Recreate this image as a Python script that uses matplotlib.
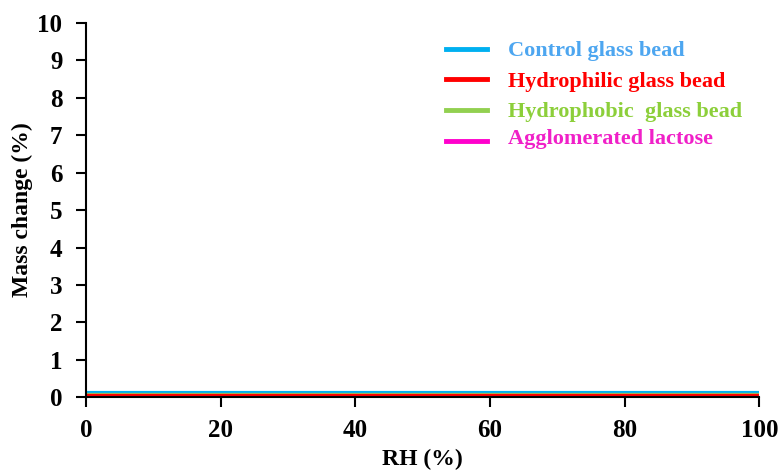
import matplotlib.pyplot as plt

plt.rcParams['font.family'] = ['Liberation Serif', 'DejaVu Serif']
plt.rcParams['font.weight'] = 'bold'

rh = [0, 20, 40, 60, 80, 100]
control = [0.12, 0.12, 0.12, 0.12, 0.12, 0.12]
hydrophilic = [0.04, 0.04, 0.04, 0.04, 0.04, 0.04]
hydrophobic = [0.05, 0.05, 0.05, 0.05, 0.05, 0.05]
lactose = [0.03, 0.03, 0.03, 0.03, 0.03, 0.03]

names = ["Control glass bead", "Hydrophilic glass bead", "Hydrophobic  glass bead", "Agglomerated lactose"]
line_cols = ["#00b0f0", "#ff0000", "#92d050", "#ff00cc"]
text_cols = ["#4da6f0", "#ff0000", "#8ccf3a", "#f020c8"]

fig = plt.figure(figsize=(7.82, 4.70), dpi=100)
ax = fig.add_axes([0.110, 0.155, 0.861, 0.796])

ax.plot(rh, control, color=line_cols[0], lw=3, solid_capstyle='butt')
ax.plot(rh, hydrophobic, color=line_cols[2], lw=3, solid_capstyle='butt')
ax.plot(rh, lactose, color=line_cols[3], lw=3, solid_capstyle='butt')
ax.plot(rh, hydrophilic, color=line_cols[1], lw=3, solid_capstyle='butt')

ax.set_xlim(0, 100)
ax.set_ylim(0, 10)
ax.set_xticks(range(0, 101, 20))
ax.set_yticks(range(0, 11))
ax.spines['top'].set_visible(False)
ax.spines['right'].set_visible(False)
ax.spines['left'].set_linewidth(1.5)
ax.spines['bottom'].set_linewidth(1.5)
ax.tick_params(axis='both', labelsize=18, width=1.5, length=7, direction='out')
ax.tick_params(axis='y', pad=10)
ax.tick_params(axis='x', pad=9)
ax.set_xlabel("RH (%)", fontsize=17, fontweight='bold', labelpad=5)
ax.set_ylabel("Mass change (%)", fontsize=17, fontweight='bold', labelpad=3)

# hand-placed legend
line_ys = [0.896, 0.832, 0.766, 0.700]
text_ys = [0.892, 0.826, 0.762, 0.704]
for name, lc, tc, ly, ty in zip(names, line_cols, text_cols, line_ys, text_ys):
    fig.add_artist(plt.Line2D([0.570, 0.623], [ly, ly], color=lc, lw=3.5, transform=fig.transFigure))
    fig.text(0.650, ty, name, color=tc, fontsize=16, fontweight='bold', va='center')

fig.savefig("out.png", dpi=100)
